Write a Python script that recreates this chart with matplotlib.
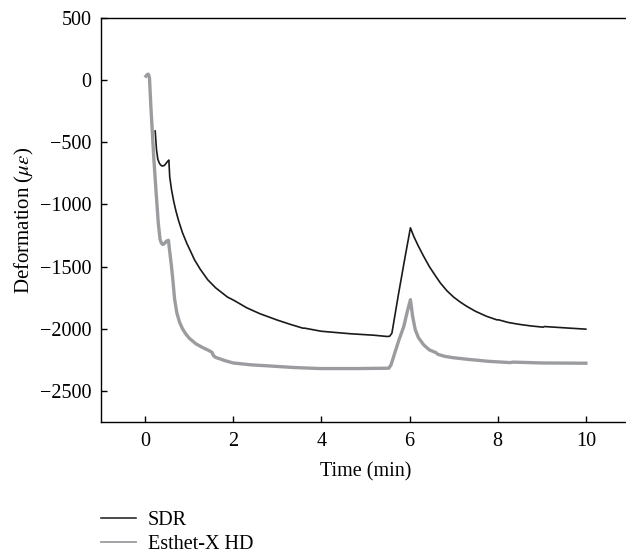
import matplotlib
matplotlib.use("Agg")
import matplotlib.pyplot as plt
from matplotlib.lines import Line2D

plt.rcParams['font.family'] = ['Liberation Serif', 'DejaVu Serif']
plt.rcParams['mathtext.fontset'] = 'stix'

# SDR (black)
sdr_t = [0.23, 0.26, 0.29, 0.33, 0.37, 0.40, 0.44, 0.48, 0.52, 0.54, 0.56, 0.60, 0.65, 0.70,
         0.76, 0.85, 0.95, 1.05, 1.12, 1.25, 1.42, 1.6, 1.87, 2.02, 2.3, 2.6, 3.0, 3.3, 3.58, 3.62,
         4.0, 4.66, 5.2, 5.49, 5.55, 5.6, 5.75, 5.9, 6.02, 6.1, 6.2, 6.32, 6.45, 6.58, 6.70,
         6.85, 7.0, 7.15, 7.30, 7.5, 7.75, 7.98, 8.02, 8.25, 8.5, 8.75, 9.03, 9.06, 9.5, 10.0]
sdr_y = [-409, -560, -637, -672, -688, -691, -685, -668, -650, -643, -780, -880, -975, -1052,
         -1130, -1228, -1315, -1390, -1444, -1520, -1605, -1670, -1745, -1772, -1830, -1878, -1930, -1965, -1995, -1995,
         -2020, -2040, -2052, -2062, -2060, -2035, -1720, -1420, -1188, -1260, -1335, -1417, -1500, -1570, -1632,
         -1695, -1745, -1785, -1820, -1860, -1900, -1928, -1928, -1950, -1965, -1977, -1987, -1982, -1992, -2003]

# Esthet-X HD (grey)
est_t = [0.02, 0.05, 0.075, 0.10, 0.13, 0.17, 0.20, 0.25, 0.30, 0.34, 0.37, 0.40, 0.44, 0.48,
         0.53, 0.56, 0.60, 0.63, 0.67, 0.72, 0.78, 0.85, 0.92, 1.0, 1.15, 1.3, 1.45, 1.52, 1.55, 1.6, 1.8,
         2.0, 2.4, 2.78, 3.4, 3.98, 4.8, 5.53, 5.58, 5.64, 5.75, 5.87, 5.95, 6.02, 6.07, 6.13,
         6.2, 6.32, 6.45, 6.60, 6.64, 6.8, 7.0, 7.3, 7.8, 8.28, 8.35, 9.0, 10.0]
est_y = [32, 45, 48, 20, -200, -450, -637, -900, -1150, -1280, -1310, -1322, -1315, -1296,
         -1288, -1380, -1500, -1605, -1760, -1870, -1945, -2000, -2040, -2075, -2120, -2150, -2175, -2190, -2215, -2230, -2255,
         -2275, -2290, -2298, -2312, -2320, -2320, -2317, -2290, -2223, -2100, -1981, -1860, -1766, -1900, -2008,
         -2070, -2129, -2170, -2192, -2205, -2222, -2233, -2245, -2262, -2272, -2268, -2275, -2277]

fig = plt.figure(figsize=(6.26, 5.55), dpi=100)
ax = fig.add_axes([0.1613, 0.2396, 0.845, 0.728])

ax.plot(sdr_t, sdr_y, color='#1a1a1a', lw=1.2)
ax.plot(est_t, est_y, color='#9a9c9f', lw=2.4)

ax.set_xlim(-1, 11)
ax.set_ylim(-2750, 500)
ax.set_xticks([0, 2, 4, 6, 8, 10])
ax.set_yticks([500, 0, -500, -1000, -1500, -2000, -2500])
ax.spines['right'].set_visible(False)
for s in ax.spines.values():
    s.set_linewidth(1.0)
ax.tick_params(direction='in', length=4, width=1.0, labelsize=14.5, pad=7)

ax.set_xlabel('Time (min)', fontsize=14.5, labelpad=8)
ax.set_ylabel(r'Deformation ($\mu\varepsilon$)', fontsize=15, labelpad=3)

handles = [Line2D([], [], color='#1a1a1a', lw=1.1),
           Line2D([], [], color='#9a9c9f', lw=1.3)]
fig.legend(handles=handles, labels=['SDR', 'Esthet-X HD'], loc='upper left',
           bbox_to_anchor=(0.161, 0.079), frameon=False, fontsize=14.5,
           handlelength=1.75, handletextpad=0.6, labelspacing=0.25,
           borderpad=0, borderaxespad=0)

fig.savefig('out.png', dpi=100)
